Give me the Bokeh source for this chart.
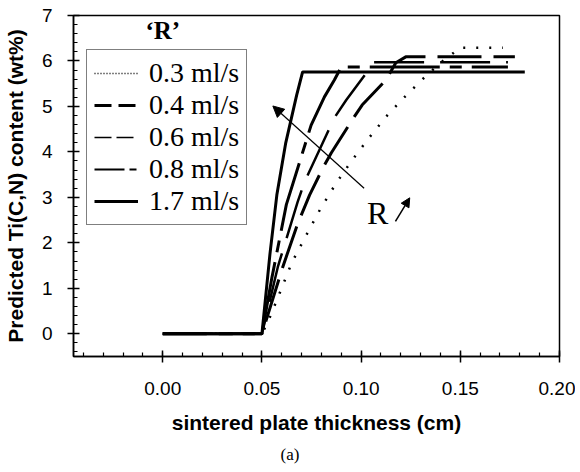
from bokeh.plotting import figure
from bokeh.models import (Range1d, SingleIntervalTicker, PrintfTickFormatter, Legend,
                          LegendItem, Arrow, NormalHead, Label, Title)
from bokeh.embed import file_html
from bokeh.resources import INLINE

# ---- data ----
labels = ["0.3 ml/s", "0.4 ml/s", "0.6 ml/s", "0.8 ml/s", "1.7 ml/s"]

x_03 = [0.0, 0.05, 0.053, 0.059, 0.065, 0.0725, 0.0795, 0.0875, 0.0955, 0.104, 0.1125,
        0.1215, 0.1305, 0.14, 0.15, 0.1715]
y_03 = [0, 0, 0.26, 0.9, 1.56, 2.18, 2.75, 3.32, 3.82, 4.31, 4.77, 5.19, 5.58, 5.96, 6.29, 6.29]

x_04 = [0.0, 0.05, 0.0605, 0.068, 0.074, 0.081, 0.085, 0.0965, 0.1005, 0.1125, 0.1175, 0.1225, 0.1775]
y_04 = [0, 0, 1.47, 2.42, 3.05, 3.67, 3.98, 4.77, 5.03, 5.58, 5.96, 6.09, 6.09]

x_06 = [0.0, 0.05, 0.058, 0.068, 0.0715, 0.0865, 0.0925, 0.1, 0.1065, 0.174]
y_06 = [0, 0, 1.47, 2.9, 3.34, 4.75, 5.14, 5.58, 5.97, 5.97]

x_08 = [0.0, 0.05, 0.055, 0.059, 0.0623, 0.0748, 0.0815, 0.0865, 0.09, 0.174]
y_08 = [0, 0, 1.23, 2.11, 2.84, 4.59, 5.21, 5.58, 5.87, 5.87]

x_17 = [0.0, 0.05, 0.054, 0.0575, 0.062, 0.0675, 0.0705, 0.1825]
y_17 = [0, 0, 1.74, 3.05, 4.2, 5.25, 5.76, 5.76]

p = figure(width=575, height=470, x_range=Range1d(-0.045, 0.2), y_range=Range1d(-0.5, 7),
           output_backend="svg", toolbar_location=None,
           min_border_left=73, min_border_right=16, min_border_top=15, min_border_bottom=114)
p.xgrid.visible = False
p.ygrid.visible = False
p.outline_line_color = "black"
p.outline_line_width = 1.5
p.background_fill_color = "white"
p.border_fill_color = "white"

p.xaxis.ticker = SingleIntervalTicker(interval=0.05, num_minor_ticks=5)
p.xaxis.formatter = PrintfTickFormatter(format="%.2f")
p.yaxis.ticker = SingleIntervalTicker(interval=1, num_minor_ticks=5)
p.xaxis.axis_label = "sintered plate thickness (cm)"
p.yaxis.axis_label = "Predicted Ti(C,N) content (wt%)"
for ax in (p.xaxis[0], p.yaxis[0]):
    ax.axis_line_color = "black"
    ax.axis_line_width = 1.5
    ax.major_tick_in = 6
    ax.major_tick_out = 6
    ax.minor_tick_in = 4
    ax.minor_tick_out = 0
    ax.major_tick_line_width = 1.5
    ax.minor_tick_line_width = 1.2
    ax.major_tick_line_color = "black"
    ax.minor_tick_line_color = "black"
    ax.major_label_text_font = "Liberation Sans"
    ax.major_label_text_font_size = "19px"
    ax.major_label_text_color = "black"
    ax.axis_label_text_font = "Liberation Sans"
    ax.axis_label_text_font_size = "21px"
    ax.axis_label_text_font_style = "bold"
    ax.axis_label_text_color = "black"
p.xaxis.major_label_standoff = 19
p.xaxis.axis_label_standoff = 13
p.yaxis.major_label_standoff = 15
p.yaxis.axis_label_standoff = 12

# ---- curves ----
p.line(x_03, y_03, line_color="black", line_width=2.5, line_dash="2 11")
p.line(x_04, y_04, line_color="black", line_width=3, line_dash="44 12")
p.line(x_06, y_06, line_color="black", line_width=2.5, line_dash="50 16")
p.line(x_08, y_08, line_color="black", line_width=3, line_dash="70 10 12 10")
p.line(x_17, y_17, line_color="black", line_width=3)

# ---- legend samples (hidden renderers carrying the legend line styles) ----
lg03 = p.line(x_03[:2], y_03[:2], line_color="black", line_width=1.5, line_dash="1 2", visible=False)
lg04 = p.line(x_04[:2], y_04[:2], line_color="black", line_width=3, line_dash="17 7", visible=False)
lg06 = p.line(x_06[:2], y_06[:2], line_color="black", line_width=1.5, line_dash="17 5", visible=False)
lg08 = p.line(x_08[:2], y_08[:2], line_color="black", line_width=2, line_dash="30 5 7 5", visible=False)
lg17 = p.line(x_17[:2], y_17[:2], line_color="black", line_width=3, visible=False)

legend = Legend(items=[LegendItem(label=lab, renderers=[r]) for lab, r in
                       zip(labels, [lg03, lg04, lg06, lg08, lg17])],
                location=(13, 131), label_text_font="Liberation Serif",
                label_text_font_size="28px", label_text_color="black",
                glyph_width=44, glyph_height=20, label_height=30, spacing=0,
                padding=7, label_standoff=11, margin=0,
                border_line_color="black", border_line_width=1.5,
                background_fill_color="white", background_fill_alpha=1)
p.add_layout(legend)

# ---- annotations ----
p.add_layout(Arrow(end=NormalHead(size=11, fill_color="black", line_color="black"),
                   x_start=0.1015, y_start=3.2, x_end=0.0555, y_end=5.01,
                   line_width=1.2, line_color="black"))
p.add_layout(Arrow(end=NormalHead(size=9, fill_color="black", line_color="black"),
                   x_start=0.1173, y_start=2.47, x_end=0.1245, y_end=2.99,
                   line_width=1.5, line_color="black"))
p.add_layout(Label(x=0.1030, y=2.66, text="R", text_font="Liberation Serif",
                   text_font_size="32px", text_baseline="middle", text_align="left",
                   text_color="black"))
p.add_layout(Label(x=0.0, y=6.66, text="\u2018R\u2019", text_font="Liberation Serif",
                   text_font_size="25px", text_font_style="bold", text_baseline="middle",
                   text_align="center", text_color="black"))

p.add_layout(Title(text="(a)", align="left", offset=207, text_font="Liberation Serif",
                   text_font_size="17px", text_font_style="normal", text_color="black",
                   standoff=12), "below")

open("out.html", "w").write(file_html(p, INLINE))
